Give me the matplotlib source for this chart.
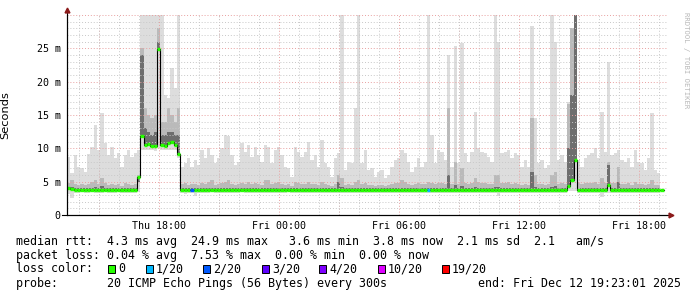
# SmokePing style latency chart (median rtt with smoke, loss colours)
import numpy as np
import matplotlib.pyplot as plt
import matplotlib.dates as mdates
from matplotlib.ticker import MultipleLocator, FuncFormatter
from matplotlib.patches import Rectangle
from datetime import datetime, timedelta

# 10 minute bins from Thu Dec 11 13:23 to Fri Dec 12 19:23 (values in ms)
start = datetime(2025, 12, 11, 13, 23, 1)
step = timedelta(minutes=10)
nan = np.nan

rtt_max = [8.75, 6.25, 9.0, 7.25, 7.0, 6.5, 9.2, 10.2, 13.5, 9.75,
           15.25, 10.75, 9.0, 10.25, 8.5, 9.25, 7.25, 9.0, 9.75, 8.75,
           9.25, 9.75, 30, 30, 30, 30, 30, 30, 30, 18,
           17.5, 22, 19, 30, 7.25, 7.75, 8.5, 7.25, 8.25, 7.5,
           9.75, 8.5, 10.0, 9.0, 7.75, 8.5, 10.0, 12.0, 11.8, 9.0,
           7.5, 8.0, 10.8, 9.5, 10.5, 8.7, 10.2, 9.0, 8.0, 10.5,
           10.25, 7.75, 9.75, 10.25, 9.0, 7.25, 7.0, 5.75, 10.25, 9.5,
           8.75, 9.5, 11.0, 8.25, 9.0, 7.25, 11.25, 7.75, 7.25, 5.75,
           8.5, 9.25, 30, 6.75, 8.0, 7.75, 16.0, 30, 7.75, 9.75,
           6.75, 7.0, 5.75, 6.5, 6.75, 5.5, 6.0, 7.25, 8.25, 8.5,
           9.75, 9.25, 8.0, 6.5, 7.25, 8.5, 7.25, 8.0, 30, 12.0,
           7.75, 9.75, 9.5, 8.25, 24.0, 7.25, 25.4, 7.75, 25.8, 9.25,
           8.0, 9.5, 15.5, 10.0, 9.5, 9.25, 8.75, 8.0, 30, 26.0,
           9.25, 9.5, 9.75, 8.5, 9.25, 9.0, 7.25, 8.25, 7.25, 28.4,
           14.5, 7.75, 8.25, 7.0, 7.5, 30, 26.0, 8.25, 9.0, 8.0,
           17.0, 28.0, 30, 8.25, 7.25, 8.5, 9.0, 9.25, 10.0, 8.5,
           15.4, 9.5, 23.0, 9.0, 9.25, 9.75, 8.25, 8.0, 8.5, 7.25,
           9.75, 8.0, 7.75, 6.75, 8.5, 15.25, 6.75, 6.25, 6.5, nan]

rtt_mid = [4.8, 5.2, 4.6, 4.5, 4.7, 4.5, 4.6, 5.0, 5.3, 4.6,
           5.6, 4.8, 4.5, 4.7, 4.5, 4.6, 4.4, 4.8, 4.6, 4.5,
           4.7, 6.0, 25, 16, 15, 14.5, 15, 28, 14, 14,
           16, 15, 14, 16, 4.6, 4.8, 4.5, 4.7, 4.6, 4.5,
           4.8, 4.6, 5.0, 5.2, 4.5, 4.6, 4.8, 5.0, 5.2, 4.6,
           4.5, 4.6, 4.8, 4.7, 5.0, 4.6, 4.8, 4.6, 4.5, 5.2,
           5.3, 4.6, 4.8, 5.0, 4.7, 4.5, 4.6, 4.4, 5.0, 4.8,
           4.6, 4.7, 5.0, 4.6, 4.7, 4.5, 5.0, 4.6, 4.5, 4.4,
           4.6, 6.0, 5.5, 4.5, 4.6, 4.5, 5.0, 5.2, 4.6, 4.8,
           4.5, 4.5, 4.4, 4.5, 4.5, 4.4, 4.5, 4.6, 4.8, 4.8,
           5.2, 5.0, 4.7, 4.5, 4.6, 4.8, 4.6, 4.7, 5.0, 4.8,
           4.6, 4.8, 4.8, 4.6, 16.0, 4.6, 8.0, 4.6, 7.0, 4.8,
           4.7, 4.8, 5.5, 5.0, 4.8, 4.8, 4.7, 4.6, 6.0, 6.0,
           4.8, 4.8, 5.0, 4.6, 4.8, 4.7, 4.5, 4.6, 4.5, 14.5,
           6.0, 4.6, 4.7, 4.5, 4.6, 6.0, 6.5, 4.7, 4.8, 4.6,
           16.7, 28.0, 30, 4.8, 4.6, 4.8, 4.8, 4.8, 5.0, 4.7,
           5.5, 4.8, 8.0, 4.8, 4.8, 7.2, 4.7, 4.6, 4.8, 4.5,
           5.0, 4.6, 4.6, 4.5, 4.7, 5.2, 4.5, 4.5, 4.5, nan]

rtt_dark = [4.1, 4.2, 4.0, 4.0, 4.0, 4.0, 4.0, 4.1, 4.2, 4.0,
            4.3, 4.0, 4.0, 4.0, 4.0, 4.0, 4.0, 4.0, 4.0, 4.0,
            4.0, 5.0, 24, 13, 12.5, 12, 12.5, 26, 12, 12,
            12.5, 12.5, 12, 12, 4.0, 4.0, 4.0, 4.0, 4.0, 4.0,
            4.0, 4.0, 4.0, 4.1, 4.0, 4.0, 4.0, 4.0, 4.1, 4.0,
            4.0, 4.0, 4.0, 4.0, 4.0, 4.0, 4.0, 4.0, 4.0, 4.1,
            4.1, 4.0, 4.0, 4.0, 4.0, 4.0, 4.0, 4.0, 4.0, 4.0,
            4.0, 4.0, 4.0, 4.0, 4.0, 4.0, 4.0, 4.0, 4.0, 4.0,
            4.0, 5.0, 4.2, 4.0, 4.0, 4.0, 4.0, 4.1, 4.0, 4.0,
            4.0, 4.0, 4.0, 4.0, 4.0, 4.0, 4.0, 4.0, 4.0, 4.0,
            4.1, 4.0, 4.0, 4.0, 4.0, 4.0, 4.0, 4.0, 4.1, 4.0,
            4.0, 4.0, 4.0, 4.0, 6.0, 4.0, 4.5, 4.0, 4.3, 4.0,
            4.0, 4.0, 4.2, 4.0, 4.0, 4.0, 4.0, 4.0, 4.2, 4.2,
            4.0, 4.0, 4.0, 4.0, 4.0, 4.0, 4.0, 4.0, 4.0, 6.5,
            4.2, 4.0, 4.0, 4.0, 4.0, 4.2, 4.3, 4.0, 4.0, 4.0,
            10.0, 18.0, 30, 4.0, 4.0, 4.0, 4.0, 4.0, 4.0, 4.0,
            4.1, 4.0, 7.5, 4.0, 4.0, 5.0, 4.0, 4.0, 4.0, 4.0,
            4.0, 4.0, 4.0, 4.0, 4.0, 4.1, 4.0, 4.0, 4.0, nan]

rtt_median = [4.0, 3.9, 3.8, 3.8, 3.7, 3.7, 3.8, 3.7, 3.8, 3.7,
              3.8, 3.8, 3.7, 3.7, 3.8, 3.8, 3.7, 3.8, 3.7, 3.7,
              3.7, 5.7, 11.8, 10.5, 10.6, 10.4, 10.4, 24.9, 10.5, 10.4,
              10.8, 11.0, 10.5, 9.1, 3.8, 3.8, 3.8, 3.8, 3.7, 3.8,
              3.8, 3.7, 3.8, 3.8, 3.7, 3.8, 3.7, 3.8, 3.8, 3.7,
              3.8, 3.8, 3.7, 3.8, 3.8, 3.7, 3.8, 3.8, 3.7, 3.8,
              3.7, 3.7, 3.8, 3.7, 3.8, 3.8, 3.8, 3.7, 3.8, 3.7,
              3.8, 3.7, 3.8, 3.7, 3.8, 3.8, 3.8, 3.8, 3.7, 3.8,
              3.7, 3.8, 3.8, 3.7, 3.8, 3.8, 3.8, 3.8, 3.7, 3.8,
              3.8, 3.7, 3.8, 3.8, 3.8, 3.7, 3.8, 3.8, 3.8, 3.8,
              3.7, 3.8, 3.8, 3.7, 3.8, 3.8, 3.7, 3.8, 3.8, 3.8,
              3.8, 3.7, 3.8, 3.8, 3.8, 3.7, 3.8, 3.8, 3.8, 3.7,
              3.8, 3.8, 3.7, 3.8, 3.8, 3.8, 3.7, 3.8, 3.8, 3.8,
              3.7, 3.8, 3.8, 3.8, 3.7, 3.8, 3.8, 3.8, 3.7, 3.8,
              3.8, 3.8, 3.7, 3.8, 3.8, 3.8, 3.8, 3.7, 3.8, 3.8,
              4.3, 5.2, 8.2, 3.8, 3.8, 3.7, 3.8, 3.8, 3.8, 3.7,
              3.8, 3.8, 4.5, 3.8, 3.7, 3.8, 3.8, 3.8, 3.7, 3.8,
              3.8, 3.7, 3.8, 3.8, 3.8, 3.7, 3.8, 3.8, 3.8, nan]

rtt_min = [3.2, 2.5, 3.3, 3.3, 3.4, 3.3, 3.3, 3.4, 3.3, 3.3,
           3.3, 3.4, 3.3, 3.3, 3.3, 3.4, 3.3, 3.3, 3.3, 3.3,
           3.3, 3.4, 9.8, 9.8, 9.7, 9.7, 9.6, 10.0, 9.8, 9.8,
           9.7, 9.8, 9.7, 8.5, 3.3, 3.2, 3.3, 3.3, 2.8, 3.3,
           3.3, 3.3, 3.3, 3.4, 3.3, 3.3, 3.3, 3.3, 3.3, 3.3,
           3.3, 3.3, 3.4, 3.3, 3.3, 3.3, 3.3, 3.3, 3.3, 3.3,
           3.3, 3.3, 3.3, 3.3, 3.3, 3.3, 3.4, 3.3, 3.3, 3.3,
           3.3, 3.3, 3.3, 3.3, 3.3, 3.3, 3.3, 3.3, 3.3, 3.3,
           3.3, 3.3, 3.3, 3.3, 3.3, 3.3, 3.3, 3.3, 3.3, 3.3,
           3.3, 3.3, 3.3, 3.3, 3.3, 3.3, 3.3, 3.3, 3.3, 3.3,
           3.3, 3.3, 3.3, 3.3, 3.3, 3.3, 3.3, 3.3, 3.3, 3.3,
           3.3, 3.3, 3.3, 3.3, 3.3, 3.3, 3.3, 3.3, 3.3, 3.3,
           3.3, 3.3, 3.3, 3.3, 3.3, 3.3, 3.3, 3.3, 3.3, 2.8,
           3.3, 3.3, 3.3, 3.3, 3.3, 3.3, 3.3, 3.3, 3.3, 3.3,
           3.3, 3.3, 3.3, 3.3, 3.3, 3.3, 3.3, 3.3, 3.3, 3.3,
           3.6, 3.6, 3.6, 3.3, 3.3, 3.3, 3.3, 3.3, 3.3, 3.3,
           2.7, 3.3, 3.3, 3.3, 3.3, 3.3, 3.3, 3.3, 3.3, 3.3,
           3.3, 3.3, 3.3, 3.3, 3.3, 3.3, 3.3, 3.3, 3.3, nan]

# lost pings (of 20) per bin
loss = [0] * 180
loss[37] = 2
loss[108] = 1

loss_levels = [0, 1, 2, 3, 4, 10, 19]
loss_labels = ['0', '1/20', '2/20', '3/20', '4/20', '10/20', '19/20']
loss_colors = ['#26ff00', '#00b8ff', '#0059ff', '#5e00ff', '#7e00ff', '#dd00ff', '#ff0000']

legend_lines = [
    'median rtt:  4.3 ms avg  24.9 ms max   3.6 ms min  3.8 ms now  2.1 ms sd  2.1   am/s',
    'packet loss: 0.04 % avg  7.53 % max  0.00 % min  0.00 % now',
    'loss color:',
    'probe:       20 ICMP Echo Pings (56 Bytes) every 300s             end: Fri Dec 12 19:23:01 2025',
]

W, H = 697, 297
fig = plt.figure(figsize=(W / 100, H / 100), dpi=100)
fig.patch.set_facecolor('white')
ax = fig.add_axes([67 / W, 82 / H, 600 / W, 200 / H])

n = len(rtt_max)
edges = mdates.date2num([start + i * step for i in range(n + 1)])


def sec(a):
    a = list(a)
    return np.array(a + [a[-1]], dtype=float) / 1000.0


med = sec(rtt_median)
ax.fill_between(edges, sec(rtt_min), sec(rtt_max), step='post', color='#dddddd', lw=0, zorder=1)
ax.fill_between(edges, med - 0.0002, sec(rtt_mid), step='post', color='#bababa', lw=0, zorder=1.1)
ax.fill_between(edges, med - 0.0001, sec(rtt_dark), step='post', color='#6e6e6e', lw=0, zorder=1.2)

# median line, coloured by loss
ax.step(edges, med, where='post', color='black', lw=0.8, zorder=3)
seg_colors = []
for l in loss:
    c = loss_colors[0]
    for lv, col in zip(loss_levels, loss_colors):
        if l >= lv:
            c = col
    seg_colors.append(c)
ax.hlines(med[:-1], edges[:-1], edges[1:], colors=seg_colors, lw=2.4, zorder=4)

t0 = mdates.date2num(start)
t1 = mdates.date2num(start + timedelta(hours=30))
ax.set_xlim(t0, t1)
ax.set_ylim(0, 0.030)

# axes / ticks
mono = 'DejaVu Sans Mono'
ax.xaxis.set_major_locator(mdates.HourLocator(byhour=range(0, 24, 6)))
ax.xaxis.set_major_formatter(mdates.DateFormatter('%a %H:%M'))
ax.xaxis.set_minor_locator(mdates.HourLocator())
ax.yaxis.set_major_locator(MultipleLocator(0.005))
ax.yaxis.set_minor_locator(MultipleLocator(0.001))


def ms_fmt(v, p):
    if abs(v) < 1e-9:
        return '0'
    if v > 0.0299:
        return ''
    return '%d m' % round(v * 1000)


ax.yaxis.set_major_formatter(FuncFormatter(ms_fmt))
ax.tick_params(axis='both', which='both', length=0)
ax.tick_params(axis='x', pad=4)
ax.tick_params(axis='y', pad=4.5)
for lab in ax.get_xticklabels() + ax.get_yticklabels():
    lab.set_fontfamily(mono)
    lab.set_fontsize(7.2)

# grid: grey dotted every hour / 1 ms, red dotted every 3 h / 5 ms
dots = (0, (1, 2))
ax.grid(which='minor', color='#c8c8c8', ls=dots, lw=0.7, zorder=2)
ax.grid(which='major', axis='y', color='#e8a0a0', ls=dots, lw=0.7, zorder=2)
for t in mdates.HourLocator(byhour=range(0, 24, 3)).tick_values(start, start + timedelta(hours=30)):
    if t0 < t < t1:
        ax.axvline(t, color='#e8a0a0', ls=dots, lw=0.7, zorder=2)
ax.set_axisbelow(False)

for s in ['top', 'right']:
    ax.spines[s].set_visible(False)
for s in ['left', 'bottom']:
    ax.spines[s].set_linewidth(0.8)
    ax.spines[s].set_zorder(5)
ax.plot([-0.008, 1.006], [0, 0], color='black', lw=0.8, transform=ax.transAxes, clip_on=False, zorder=5)
ax.plot([0, 0], [0, 1.02], color='black', lw=0.8, transform=ax.transAxes, clip_on=False, zorder=5)
ax.plot(1.006, 0, marker='>', ms=3.5, color='#8b1a1a', transform=ax.transAxes, clip_on=False, zorder=6)
ax.plot(0, 1.025, marker='^', ms=3.5, color='#8b1a1a', transform=ax.transAxes, clip_on=False, zorder=6)

ax.set_ylabel('Seconds', fontsize=8.2, labelpad=0)
ax.yaxis.set_label_coords(-57 / 600, 0.5)

fig.text(686 / W, 1 - 60 / H, 'RRDTOOL / TOBI OETIKER', rotation=270, family=mono,
         fontsize=5.2, color='#b8b8b8', ha='center', va='center')

# legend rows
baselines = [244.5, 258.5, 272.5, 286.5]
for txt, yb in zip(legend_lines, baselines):
    fig.text(16 / W, 1 - yb / H, txt, family=mono, fontsize=8.4, va='baseline', ha='left')

box_x = [108, 146, 203, 262, 319, 378, 442]
for bx, lab, col in zip(box_x, loss_labels, loss_colors):
    fig.add_artist(Rectangle((bx / W, 1 - 273 / H), 7 / W, 8 / H, transform=fig.transFigure,
                             facecolor=col, edgecolor='black', lw=0.7))
    fig.text((bx + 10) / W, 1 - 272.5 / H, lab, family=mono, fontsize=8.4, va='baseline', ha='left')

fig.savefig('out.png', dpi=100, facecolor='white')
